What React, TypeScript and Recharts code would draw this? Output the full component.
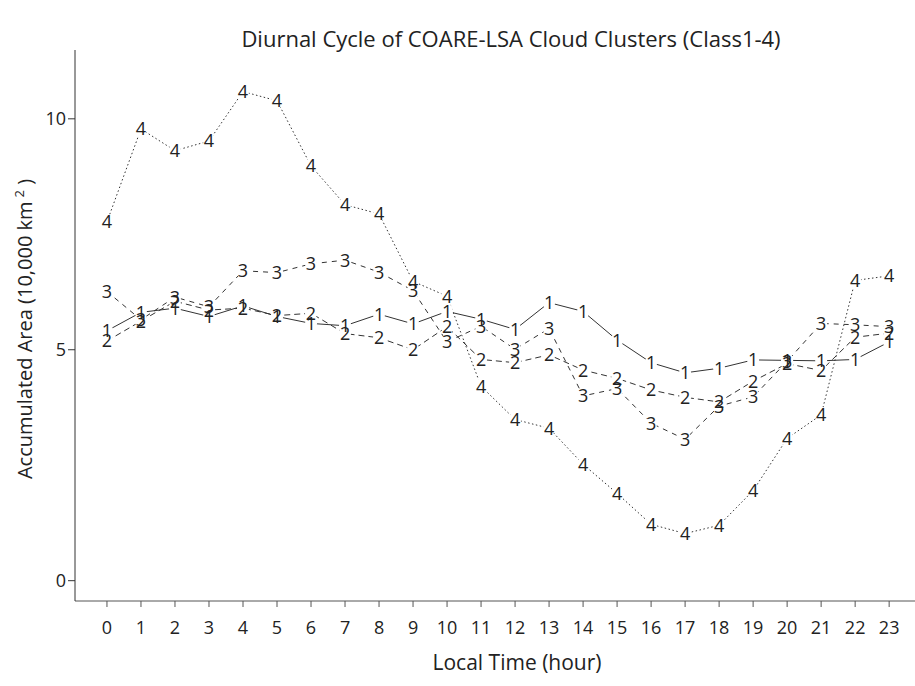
import React from 'react';
import { LineChart, Line, XAxis, YAxis } from 'recharts';

// Local hour of day (categories on the x axis)
const HOURS = [0, 1, 2, 3, 4, 5, 6, 7, 8, 9, 10, 11, 12, 13, 14, 15, 16, 17, 18, 19, 20, 21, 22, 23];

// Accumulated cloud-cluster area per class (units of 10,000 km^2)
const CLASS1 = [5.41, 5.81, 5.9, 5.72, 5.95, 5.72, 5.57, 5.52, 5.77, 5.56, 5.83, 5.66, 5.44, 6.02, 5.83, 5.21, 4.72, 4.5, 4.6, 4.78, 4.77, 4.76, 4.79, 5.17];
const CLASS2 = [5.19, 5.62, 6.05, 5.86, 5.9, 5.74, 5.79, 5.35, 5.26, 5.0, 5.5, 4.79, 4.72, 4.89, 4.56, 4.38, 4.13, 3.97, 3.87, 4.32, 4.7, 4.55, 5.27, 5.36];
const CLASS3 = [6.26, 5.65, 6.14, 5.93, 6.71, 6.67, 6.86, 6.94, 6.68, 6.28, 5.17, 5.51, 5.01, 5.46, 4.0, 4.16, 3.41, 3.06, 3.78, 3.98, 4.75, 5.57, 5.54, 5.5];
const CLASS4 = [7.77, 9.78, 9.31, 9.52, 10.59, 10.39, 8.98, 8.14, 7.94, 6.48, 6.16, 4.21, 3.49, 3.3, 2.52, 1.89, 1.22, 1.02, 1.2, 1.95, 3.08, 3.59, 6.5, 6.6];

const Y_TICKS = [0, 5, 10];

const SERIES = [
  { key: 'c1', mark: '1', dash: undefined as string | undefined },
  { key: 'c2', mark: '2', dash: '6 4' },
  { key: 'c3', mark: '3', dash: '5 5' },
  { key: 'c4', mark: '4', dash: '1.5 2.5' },
];

const data = HOURS.map((h, i) => ({
  hour: h,
  c1: CLASS1[i],
  c2: CLASS2[i],
  c3: CLASS3[i],
  c4: CLASS4[i],
}));

const FONT = '"Open Sans", sans-serif';
const INK = '#222';
const LINE = '#333';

// White blank under each plotted character so line segments stop short of it
const gapDot = (props: any) => {
  const { cx, cy, index } = props;
  if (cx == null || cy == null) return <g key={`g-${index}`} />;
  return <ellipse key={`g-${index}`} cx={cx} cy={cy} rx={6} ry={8} fill="#fff" />;
};

const charDot = (mark: string) => (props: any) => {
  const { cx, cy, index } = props;
  if (cx == null || cy == null) return <g key={`m-${index}`} />;
  return (
    <text
      key={`m-${index}`}
      x={cx}
      y={cy}
      dy="0.36em"
      textAnchor="middle"
      fontFamily={FONT}
      fontSize={18}
      fill={INK}
    >
      {mark}
    </text>
  );
};

const XTitle = () => (
  <text x={517} y={670} textAnchor="middle" fontFamily={FONT} fontSize={21} fill={INK}>
    Local Time (hour)
  </text>
);

const YTitle = () => (
  <text
    x={32}
    y={329}
    transform="rotate(-90 32 329)"
    textAnchor="middle"
    fontFamily={FONT}
    fontSize={20}
    fill={INK}
  >
    Accumulated Area (10,000 km
    <tspan dx={4} dy={-8} fontSize={13}>2</tspan>
    <tspan dy={8}> )</tspan>
  </text>
);

export default function App() {
  return (
    <div style={{ position: 'absolute', left: 0, top: 0, width: 915, height: 686, background: '#fff' }}>
      <div
        style={{
          position: 'absolute',
          left: 0,
          width: 1022,
          top: 24,
          textAlign: 'center',
          fontFamily: FONT,
          fontSize: 22,
          color: INK,
          lineHeight: '28px',
        }}
      >
        Diurnal Cycle of COARE-LSA Cloud Clusters (Class1-4)
      </div>
      <LineChart
        width={915}
        height={686}
        data={data}
        margin={{ top: 50, right: 0, bottom: 0, left: 0 }}
        style={{ position: 'absolute', left: 0, top: 0 }}
      >
        <XAxis
          dataKey="hour"
          type="number"
          domain={[-0.94, 23.76]}
          ticks={HOURS}
          interval={0}
          allowDataOverflow
          height={85}
          tickSize={6}
          tickMargin={14}
          stroke="#555"
          tick={{ fill: INK, fontSize: 18, fontFamily: FONT }}
          label={<XTitle />}
        />
        <YAxis
          type="number"
          domain={[-0.44, 11.49]}
          ticks={Y_TICKS}
          allowDataOverflow
          width={75}
          tickSize={7}
          tickMargin={2}
          stroke="#333"
          tick={{ fill: INK, fontSize: 18, fontFamily: FONT }}
          label={<YTitle />}
        />
        {SERIES.map((s) => (
          <Line
            key={`line-${s.key}`}
            dataKey={s.key}
            stroke={LINE}
            strokeWidth={1}
            strokeDasharray={s.dash}
            dot={false}
            activeDot={false}
            isAnimationActive={false}
            type="linear"
          />
        ))}
        {SERIES.map((s) => (
          <Line
            key={`gap-${s.key}`}
            dataKey={s.key}
            stroke="none"
            dot={gapDot}
            activeDot={false}
            isAnimationActive={false}
            legendType="none"
          />
        ))}
        {SERIES.map((s) => (
          <Line
            key={`mark-${s.key}`}
            dataKey={s.key}
            stroke="none"
            dot={charDot(s.mark)}
            activeDot={false}
            isAnimationActive={false}
            legendType="none"
          />
        ))}
      </LineChart>
    </div>
  );
}
